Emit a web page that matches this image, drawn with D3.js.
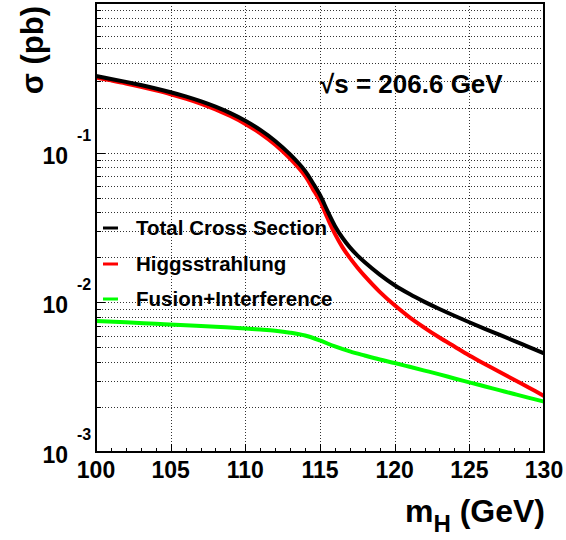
<!DOCTYPE html>
<html><head><meta charset="utf-8">
<script src="https://cdn.jsdelivr.net/npm/d3@7"></script>
<style>
html,body{margin:0;padding:0;background:#fff;}
svg{display:block;font-family:"Liberation Sans",Arial,sans-serif;font-weight:bold;}
</style></head>
<body>
<svg id="c" width="566" height="540"></svg>
<script>
// ---- data ----
const massTotal = [100,101,102,103,104,105,106,107,108,109,110,111,112,113,114,114.5,115,115.5,116,116.5,117,117.5,118,119,120,121,122,123,124,125,126,127,128,129,130];
const sigmaTotal = [0.325,0.311,0.297,0.283,0.2685,0.2535,0.2377,0.2208,0.2028,0.1837,0.1633,0.1419,0.1197,0.0973,0.0755,0.0632,0.0521,0.0408,0.0324,0.0270,0.0233,0.0206,0.0185,0.0153,0.0130,0.01135,0.01007,0.00902,0.00813,0.00736,0.00668,0.00608,0.00553,0.00502,0.00456];
const massHS = [100,101,102,103,104,105,106,107,108,109,110,111,112,113,114,114.5,115,115.5,116,116.5,117,117.5,118,119,120,121,122,123,124,125,126,127,128,129,130];
const sigmaHS = [0.318,0.304,0.290,0.2754,0.2606,0.2455,0.2296,0.2128,0.1945,0.1758,0.1556,0.1346,0.1130,0.0912,0.0700,0.0577,0.0474,0.0366,0.0287,0.0234,0.0198,0.0171,0.01496,0.01175,0.00955,0.00794,0.00676,0.00582,0.00507,0.00442,0.00389,0.00344,0.00304,0.00269,0.00237];
const massFus = [100,102,104,106,108,110,111,112,113,114,115,116,117,118,119,120,121,122,123,124,125,126,127,128,129,130];
const sigmaFus = [0.00750,0.00735,0.00719,0.00703,0.00687,0.00668,0.00658,0.00646,0.00627,0.00600,0.00556,0.00507,0.00470,0.00441,0.00415,0.00393,0.00371,0.00350,0.00330,0.00310,0.00292,0.00275,0.00259,0.00244,0.00230,0.00217];
const seriesNames = ["Total Cross Section","Higgsstrahlung","Fusion+Interference"];
const seriesColors = ["#000000","#ff0000","#00ff00"];
const xTickLabels = [100,105,110,115,120,125,130];
const yDecades = [1e-3,1e-2,1e-1];
const yDecadeExp = ["-3","-2","-1"];

// ---- layout ----
const L=96, R=544, T=3, B=452;
const svg = d3.select("#c");
svg.append("rect").attr("width",566).attr("height",540).attr("fill","#fff");
const x = d3.scaleLinear().domain([100,130]).range([L,R]);
const y = d3.scaleLog().domain([1e-3,1]).range([B,T]);

// grid
const g = svg.append("g");
const vGrid = xTickLabels.filter(v=>v>100&&v<130);
g.selectAll(".vg").data(vGrid).join("line")
  .attr("x1",d=>Math.round(x(d))+0.5).attr("x2",d=>Math.round(x(d))+0.5).attr("y1",T).attr("y2",B)
  .attr("stroke","#333").attr("stroke-width",1).attr("stroke-dasharray","1,2");
const hGrid = [];
for (let e=-3;e<0;e++) for (let m=1;m<10;m++){ const v=m*Math.pow(10,e); if(!(m===1&&e===-3)) hGrid.push(v);}
g.selectAll(".hg").data(hGrid).join("line")
  .attr("x1",L).attr("x2",R).attr("y1",d=>Math.round(y(d))+0.5).attr("y2",d=>Math.round(y(d))+0.5)
  .attr("stroke","#333").attr("stroke-width",1).attr("stroke-dasharray","1,2");

// curves
const line = d3.line().x(d=>x(d[0])).y(d=>y(d[1])).curve(d3.curveCatmullRom.alpha(0.5));
const dataSets = [
  [massFus, sigmaFus, seriesColors[2]],
  [massHS, sigmaHS, seriesColors[1]],
  [massTotal, sigmaTotal, seriesColors[0]]
];
dataSets.forEach(([ms,ss,col])=>{
  svg.append("path").datum(ms.map((m,i)=>[m,ss[i]]))
    .attr("d",line).attr("fill","none").attr("stroke",col).attr("stroke-width",4);
});

// x axis ticks
const xMinor = d3.range(100,131);
svg.selectAll(".xt").data(xMinor).join("line")
  .attr("x1",d=>Math.round(x(d))+0.5).attr("x2",d=>Math.round(x(d))+0.5).attr("y1",B).attr("y2",d=>B-(d%5===0?8:4))
  .attr("stroke","#000").attr("stroke-width",1);
svg.selectAll(".xl").data(xTickLabels).join("text")
  .attr("x",d=>x(d)).attr("y",478).attr("text-anchor","middle")
  .attr("font-size",23).text(d=>d);

// y axis ticks
svg.selectAll(".yt").data(hGrid.concat([1e-3])).join("line")
  .attr("x1",L).attr("x2",d=>{const m=d/Math.pow(10,Math.floor(Math.log10(d)+1e-9));return L+(Math.abs(m-1)<1e-6?9:5);})
  .attr("y1",d=>Math.round(y(d))+0.5).attr("y2",d=>Math.round(y(d))+0.5)
  .attr("stroke","#000").attr("stroke-width",1);
yDecades.forEach((v,i)=>{
  const yy=y(v);
  svg.append("text").attr("x",68).attr("y",yy+11).attr("text-anchor","end").attr("font-size",23).text("10");
  svg.append("text").attr("x",77).attr("y",yy-12).attr("text-anchor","start").attr("font-size",16).text(yDecadeExp[i]);
});

// frame
svg.append("rect").attr("x",L).attr("y",T).attr("width",R-L).attr("height",B-T)
  .attr("fill","none").attr("stroke","#000").attr("stroke-width",2);

// axis titles
svg.append("text").attr("transform","translate(43,6) rotate(-90)").attr("text-anchor","end")
  .attr("font-size",31).text("σ (pb)");
const xt = svg.append("text").attr("x",545).attr("y",522).attr("text-anchor","end").attr("font-size",32);
xt.append("tspan").text("m");
xt.append("tspan").attr("font-size",24).attr("dy",10).text("H");
xt.append("tspan").attr("dy",-10).text(" (GeV)");

// sqrt s label
svg.append("text").attr("x",320).attr("y",93).attr("font-size",26).text("√s = 206.6 GeV");

// legend
const legY = [228,264,299];
seriesNames.forEach((n,i)=>{
  svg.append("line").attr("x1",103).attr("x2",118).attr("y1",legY[i]).attr("y2",legY[i])
    .attr("stroke",seriesColors[i]).attr("stroke-width",3);
  svg.append("text").attr("x",136).attr("y",legY[i]+7).attr("font-size",20.5).text(n);
});
</script>
</body></html>
